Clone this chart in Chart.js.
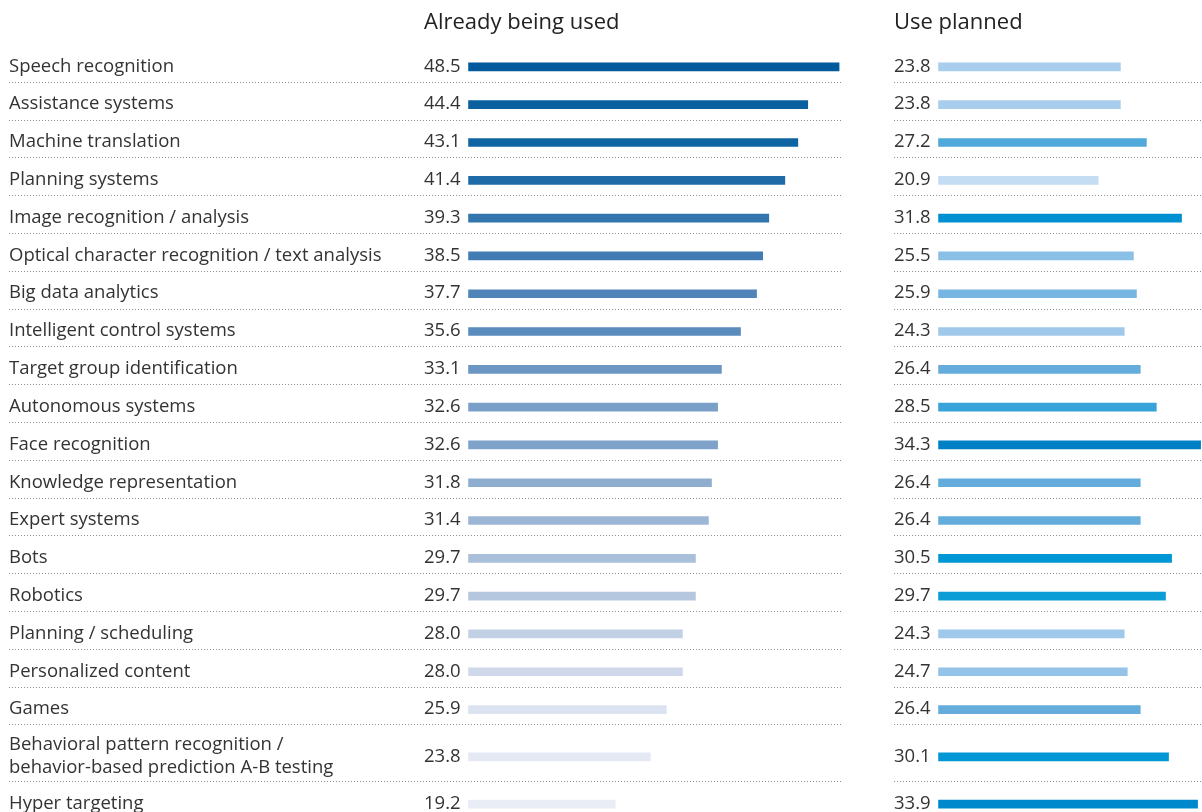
<!DOCTYPE html>
<html>
<head>
<meta charset="utf-8">
<title>AI applications: already being used vs. use planned</title>
<script src="https://cdn.jsdelivr.net/npm/chart.js@4/dist/chart.umd.min.js"></script>
<style>
  html, body { margin: 0; padding: 0; background: #ffffff; }
  #chart { display: block; }
</style>
</head>
<body>
<canvas id="chart" width="1202" height="812"></canvas>
<script>
// ---- data ----
const categories = [
  'Speech recognition',
  'Assistance systems',
  'Machine translation',
  'Planning systems',
  'Image recognition / analysis',
  'Optical character recognition / text analysis',
  'Big data analytics',
  'Intelligent control systems',
  'Target group identification',
  'Autonomous systems',
  'Face recognition',
  'Knowledge representation',
  'Expert systems',
  'Bots',
  'Robotics',
  'Planning / scheduling',
  'Personalized content',
  'Games',
  ['Behavioral pattern recognition /', 'behavior-based prediction A-B testing'],
  'Hyper targeting'
];
const alreadyUsed = [48.5, 44.4, 43.1, 41.4, 39.3, 38.5, 37.7, 35.6, 33.1, 32.6,
                     32.6, 31.8, 31.4, 29.7, 29.7, 28.0, 28.0, 25.9, 23.8, 19.2];
const usePlanned  = [23.8, 23.8, 27.2, 20.9, 31.8, 25.5, 25.9, 24.3, 26.4, 28.5,
                     34.3, 26.4, 26.4, 30.5, 29.7, 24.3, 24.7, 26.4, 30.1, 33.9];
const panelTitles = ['Already being used', 'Use planned'];

// ---- styles ----
const usedColors = ['#005a9c', '#0a5f9f', '#0f64a2', '#1f6ba7', '#3375ad', '#407cb3', '#4e84b8',
                    '#5a8bbd', '#6b96c3', '#7a9fc8', '#7ea2c9', '#8eadcf', '#9cb6d5', '#aabfda',
                    '#b5c7df', '#c2d0e5', '#ced8ea', '#dce3f0', '#e4e9f4', '#e9edf6'];
const plannedColors = ['#a9cdec', '#a9cdec', '#4fa9db', '#c5ddf2', '#008fd0', '#8ac0e6', '#77b6e2',
                       '#a0c8ea', '#64acdc', '#37a3d8', '#0080c4', '#64acdc', '#64acdc', '#0097d4',
                       '#0a9dd6', '#a0c8ea', '#93c3e8', '#64acdc', '#0097d4', '#0088cc'];
const FONT = '"Open Sans", "Noto Sans", sans-serif';
const TEXT = '#333333';

// Row layout: a two-line label gets a taller row.
const rowSpan = categories.map(c => Array.isArray(c) ? 1.5 : 1);
const rowCenter = [];
const rowEdge = [];
let acc = 0;
rowSpan.forEach(s => { rowCenter.push(acc + s / 2); acc += s; rowEdge.push(acc); });

const toPoints = values => values.map((v, i) => ({ x: v, y: rowCenter[i] }));

// Value labels in front of each bar and dotted row separators.
const rowDecor = {
  id: 'rowDecor',
  beforeDatasetsDraw(chart) {
    const { ctx, scales } = chart;
    const y = scales.y, xu = scales.xUsed, xp = scales.xPlanned;
    ctx.save();
    ctx.strokeStyle = '#8f8f8f';
    ctx.lineWidth = 1;
    ctx.setLineDash([1, 2]);
    for (let i = 0; i < rowEdge.length - 1; i++) {
      const py = Math.round(y.getPixelForValue(rowEdge[i]) - 4) + 0.5;
      ctx.beginPath();
      ctx.moveTo(y.left, py);
      ctx.lineTo(xu.right - 51, py);
      ctx.moveTo(xp.left, py);
      ctx.lineTo(xp.right, py);
      ctx.stroke();
    }
    ctx.restore();
  },
  afterDatasetsDraw(chart) {
    const { ctx } = chart;
    ctx.save();
    ctx.font = '18.5px ' + FONT;
    ctx.fillStyle = TEXT;
    ctx.textAlign = 'left';
    ctx.textBaseline = 'middle';
    chart.data.datasets.forEach((ds, d) => {
      const meta = chart.getDatasetMeta(d);
      const scale = chart.scales[ds.xAxisID];
      meta.data.forEach((bar, i) => {
        ctx.fillText(ds.data[i].x.toFixed(1), scale.left, bar.y - 0.5);
      });
    });
    ctx.restore();
  }
};

const panelAxis = (title, weight, max) => ({
  type: 'linear',
  position: 'top',
  stack: 'panels',
  stackWeight: weight,
  min: -5.83,
  max: max,
  grid: { display: false, drawTicks: false },
  border: { display: false },
  ticks: { display: false },
  title: {
    display: true,
    text: title,
    align: 'start',
    color: '#222222',
    font: { family: FONT, size: 22, weight: 'normal', lineHeight: 1.2 },
    padding: { top: 10, bottom: 0 }
  },
  afterFit: s => { s.height = 48; }
});

new Chart(document.getElementById('chart'), {
  type: 'bar',
  data: {
    datasets: [
      {
        label: panelTitles[0],
        data: toPoints(alreadyUsed),
        xAxisID: 'xUsed',
        yAxisID: 'y',
        backgroundColor: usedColors,
        borderWidth: 0,
        grouped: false,
        barThickness: 8
      },
      {
        label: panelTitles[1],
        data: toPoints(usePlanned),
        xAxisID: 'xPlanned',
        yAxisID: 'y',
        backgroundColor: plannedColors,
        borderWidth: 0,
        grouped: false,
        barThickness: 8
      }
    ]
  },
  options: {
    indexAxis: 'y',
    responsive: false,
    animation: false,
    layout: { padding: { left: 9, top: 0, right: 0, bottom: 0 } },
    plugins: { legend: { display: false }, tooltip: { enabled: false } },
    scales: {
      xPlanned: panelAxis(panelTitles[1], 308, 34.48),
      xUsed: panelAxis(panelTitles[0], 470, 55.69),
      y: {
        type: 'linear',
        position: 'left',
        reverse: true,
        offset: false,
        min: 0,
        max: 20.21,
        grid: { display: false, drawTicks: false },
        border: { display: false },
        afterBuildTicks: s => { s.ticks = rowCenter.map(v => ({ value: v })); },
        afterFit: s => {
          s.width = 415;
          s.paddingTop = 0;
          s.paddingBottom = 0;
        },
        ticks: {
          autoSkip: false,
          crossAlign: 'far',
          padding: 0,
          labelOffset: -0.5,
          color: TEXT,
          font: { family: FONT, size: 18.5, lineHeight: 1.2 },
          callback: (v, i) => categories[i]
        }
      }
    }
  },
  plugins: [rowDecor]
});
</script>
</body>
</html>
